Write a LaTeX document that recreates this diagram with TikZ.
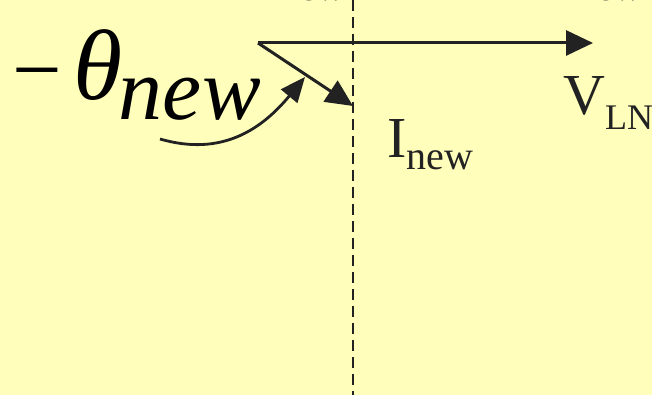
\documentclass[tikz,border=0pt]{standalone}
\usepackage{fontspec}
\setmainfont{Liberation Serif}
\usepackage{tikz}
\usetikzlibrary{arrows.meta, positioning, calc}
\definecolor{phBack}{HTML}{FFFFBB}
\definecolor{phInk}{HTML}{222222}
\tikzset{
  phasor/.style={-{Triangle[length=27pt, width=25pt]}, line width=3pt, phInk},
  anglearrow/.style={-{Triangle[length=25pt, width=21pt]}, line width=2.8pt, phInk},
  refline/.style={dashed, dash pattern=on 11pt off 6pt, line width=2.4pt, phInk},
  biglbl/.style={font=\fontsize{88}{88}\selectfont, inner sep=0pt, anchor=base west},
  phlbl/.style={font=\fontsize{58}{58}\selectfont, text=phInk, inner sep=0pt, anchor=base west},
  sublbl/.style={font=\fontsize{40}{40}\selectfont, text=phInk, inner sep=0pt, anchor=base west}
}
\begin{document}
\begin{tikzpicture}[x=1pt, y=1pt]
  \useasboundingbox (0,0) rectangle (652,395);
  \fill[phBack] (0,0) rectangle (652,395);
  \clip (0,0) rectangle (652,395);
  % phasor origin and tips
  \coordinate (orig) at (258,352);
  \coordinate (vtip) at (593,352);
  \coordinate (itip) at (353,289);
  \coordinate (dtop) at (353,395);
  \coordinate (dbot) at (353,0);
  \coordinate (astart) at (160,256);
  \coordinate (atip) at (305,318);
  \draw[refline] (dtop) -- (dbot);
  \draw[phasor] (orig) -- (vtip);
  \draw[phasor] (orig) -- (itip);
  \draw[anglearrow] (astart) .. controls (222,238) and (262,266) .. (atip);
  % labels
  \node[biglbl] (theta) at (12,295) {−\kern12pt\textit{\fontsize{100}{100}\selectfont θ}\kern-4pt\raisebox{-20pt}{\textit{new}}};
  \node[phlbl] (ilbl) at (387,237) {I\raisebox{-12pt}{\fontsize{40}{40}\selectfont new}};
  \node[phlbl] (vlbl) at (563,280) {V\raisebox{-15pt}{\fontsize{36}{36}\selectfont LN}};
  % cut-off labels above
  \node[sublbl] (newa) at (279,394) {new};
  \node[sublbl] (newb) at (576,394) {new};
\end{tikzpicture}
\end{document}
